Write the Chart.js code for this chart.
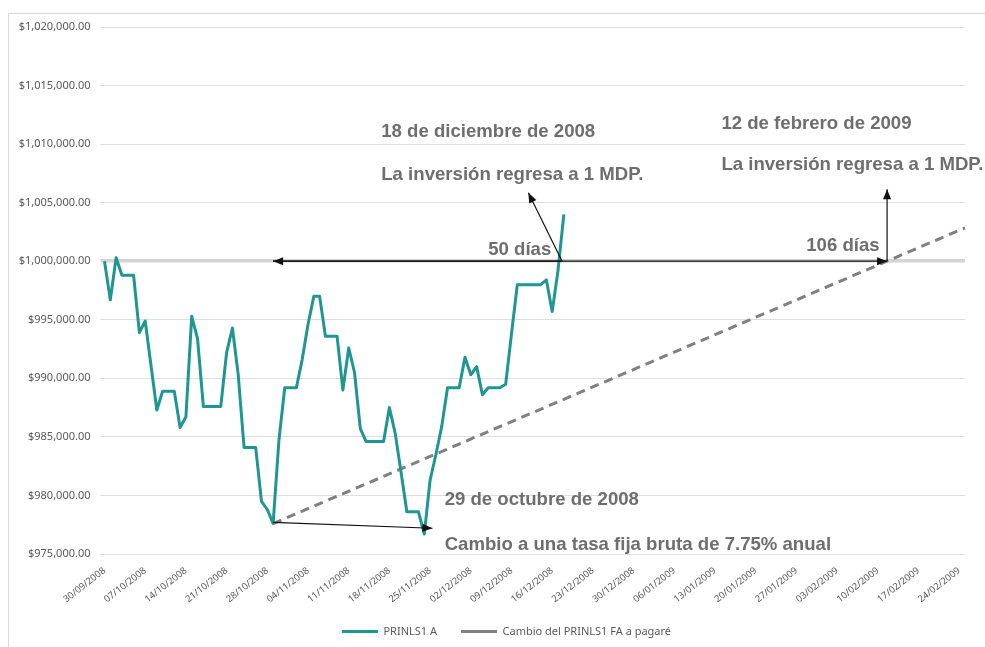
<!DOCTYPE html>
<html>
<head>
<meta charset="utf-8">
<script src="https://cdn.jsdelivr.net/npm/chart.js@4.4.0/dist/chart.umd.min.js"></script>
<style>
  html, body { margin: 0; padding: 0; background: #fff; }
  #wrap { position: relative; width: 985px; height: 647px; overflow: hidden; }
  #frame { position: absolute; left: 8px; top: 13px; width: 1000px; height: 700px; border: 1px solid #d9d9d9; }
  canvas { position: absolute; left: 0; top: 0; }
</style>
</head>
<body>
<div id="wrap">
  <div id="frame"></div>
  <canvas id="chart" width="985" height="647"></canvas>
</div>
<script>
// one category per calendar day, 30/09/2008 .. 25/02/2009
const startDate = new Date(2008, 8, 30);
const dayCount = 149;
const dayLabels = [];
for (let i = 0; i < dayCount; i++) {
    const d = new Date(startDate.getFullYear(), startDate.getMonth(), startDate.getDate() + i);
    dayLabels.push(String(d.getDate()).padStart(2, '0') + '/' +
        String(d.getMonth() + 1).padStart(2, '0') + '/' + d.getFullYear());
}

// PRINLS1 A, daily from 30/09/2008 to 18/12/2008
const prinlsValues = [
    1000000, 996700, 1000300, 998800, 998800, 998800, 993900, 994900, 991100, 987300,
    988900, 988900, 988900, 985800, 986700, 995300, 993400, 987600, 987600, 987600,
    987600, 992200, 994300, 990300, 984100, 984100, 984100, 979500, 978800, 977600,
    984700, 989200, 989200, 989200, 991600, 994600, 997000, 997000, 993600, 993600,
    993600, 989000, 992600, 990500, 985700, 984600, 984600, 984600, 984600, 987500,
    985300, 982000, 978600, 978600, 978600, 976700, 981300, 983500, 985900, 989200,
    989200, 989200, 991800, 990300, 991000, 988600, 989200, 989200, 989200, 989500,
    993800, 998000, 998000, 998000, 998000, 998000, 998400, 995700, 999200, 1004000
];

// Cambio del PRINLS1 FA a pagaré (straight line from the 29/10 low)
const pagareDates = ['29/10/2008', '25/02/2009'];
const pagareValues = [977600, 1002850];

const yMin = 975000;
const yMax = 1020000;
const yStep = 5000;

// annotations, placed in data units (day index, value)
const notes = [
    { text: '18 de diciembre de 2008', day: 47.6, value: 1011030 },
    { text: 'La inversión regresa a 1 MDP.', day: 47.6, value: 1007380 },
    { text: '12 de febrero de 2009', day: 106.1, value: 1011730 },
    { text: 'La inversión regresa a 1 MDP.', day: 106.1, value: 1008230 },
    { text: '50 días', day: 66, value: 1000930 },
    { text: '106 días', day: 120.7, value: 1001330 },
    { text: '29 de octubre de 2008', day: 58.5, value: 979630 },
    { text: 'Cambio a una tasa fija bruta de 7.75% anual', day: 58.5, value: 975780 }
];
const arrows = [
    { from: [78.7, 1000000], to: [29, 1000000] },
    { from: [29, 1000000], to: [134.6, 1000000] },
    { from: [78.7, 1000000], to: [72.9, 1005850] },
    { from: [134.6, 1000000], to: [134.6, 1006150] },
    { from: [29, 977700], to: [56.4, 977200] }
];

const tickFont = { family: 'Noto Sans', size: 11 };

function drawArrow(ctx, x1, y1, x2, y2) {
    ctx.beginPath();
    ctx.moveTo(x1, y1);
    ctx.lineTo(x2, y2);
    ctx.stroke();
    const a = Math.atan2(y2 - y1, x2 - x1);
    const len = 10, half = 4;
    ctx.beginPath();
    ctx.moveTo(x2, y2);
    ctx.lineTo(x2 - len * Math.cos(a) + half * Math.sin(a), y2 - len * Math.sin(a) - half * Math.cos(a));
    ctx.lineTo(x2 - len * Math.cos(a) - half * Math.sin(a), y2 - len * Math.sin(a) + half * Math.cos(a));
    ctx.closePath();
    ctx.fill();
}

const notesPlugin = {
    id: 'notes',
    afterLayout(chart) {
        // the original legend sits a bit right of centre
        if (chart.legend) {
            chart.legend.left += 24;
            chart.legend.right += 24;
        }
    },
    afterDatasetsDraw(chart) {
        const { ctx, scales: { x, y } } = chart;
        ctx.save();
        ctx.strokeStyle = '#111';
        ctx.fillStyle = '#111';
        ctx.lineWidth = 1.2;
        arrows.forEach(a => {
            drawArrow(ctx,
                x.getPixelForValue(a.from[0]), y.getPixelForValue(a.from[1]),
                x.getPixelForValue(a.to[0]), y.getPixelForValue(a.to[1]));
        });
        ctx.fillStyle = '#6e6e6e';
        ctx.font = 'bold 18.6px "Liberation Sans", Arial, sans-serif';
        ctx.textAlign = 'left';
        ctx.textBaseline = 'middle';
        notes.forEach(n => {
            ctx.fillText(n.text, x.getPixelForValue(n.day), y.getPixelForValue(n.value));
        });
        ctx.restore();
    }
};

const config = {
    type: 'line',
    data: {
        labels: dayLabels,
        datasets: [{
            label: 'PRINLS1 A',
            data: prinlsValues,
            borderColor: '#1f968f',
            backgroundColor: '#1f968f',
            borderWidth: 3,
            borderJoinStyle: 'round',
            pointRadius: 0,
            tension: 0
        }, {
            label: 'Cambio del PRINLS1 FA a pagaré',
            data: pagareDates.map((d, i) => ({ x: d, y: pagareValues[i] })),
            borderColor: '#808080',
            backgroundColor: '#808080',
            borderWidth: 3,
            borderDash: [9, 6],
            pointRadius: 0,
            tension: 0
        }]
    },
    options: {
        responsive: false,
        animation: false,
        layout: { padding: { top: 27, right: 20, left: 0, bottom: 0 } },
        scales: {
            x: {
                type: 'category',
                offset: false,
                grid: { display: false },
                border: { display: false },
                ticks: {
                    autoSkip: false,
                    minRotation: 38,
                    maxRotation: 38,
                    padding: 3,
                    color: '#595959',
                    font: { family: 'Noto Sans', size: 9.5 },
                    callback: function (val, i) {
                        return i % 7 === 0 ? this.getLabelForValue(val) : null;
                    }
                },
                afterFit: s => { s.height = 48; }
            },
            y: {
                min: yMin,
                max: yMax,
                border: { display: false },
                grid: {
                    color: c => (c.tick && c.tick.value === 1000000) ? '#d4d4d4' : '#dedede',
                    lineWidth: c => (c.tick && c.tick.value === 1000000) ? 3.5 : 1,
                    tickLength: 4
                },
                ticks: {
                    stepSize: yStep,
                    padding: 10,
                    color: '#595959',
                    font: tickFont,
                    callback: v => '$' + v.toLocaleString('en-US', { minimumFractionDigits: 2, maximumFractionDigits: 2 })
                },
                afterFit: s => { s.width = 104.5; }
            }
        },
        plugins: {
            legend: {
                position: 'bottom',
                labels: {
                    usePointStyle: true,
                    pointStyle: 'line',
                    pointStyleWidth: 36,
                    color: '#595959',
                    font: { family: 'Noto Sans', size: 11 },
                    padding: 24
                }
            },
            tooltip: { enabled: false }
        }
    },
    plugins: [notesPlugin]
};

const chart = new Chart(document.getElementById('chart').getContext('2d'), config);
</script>
</body>
</html>
